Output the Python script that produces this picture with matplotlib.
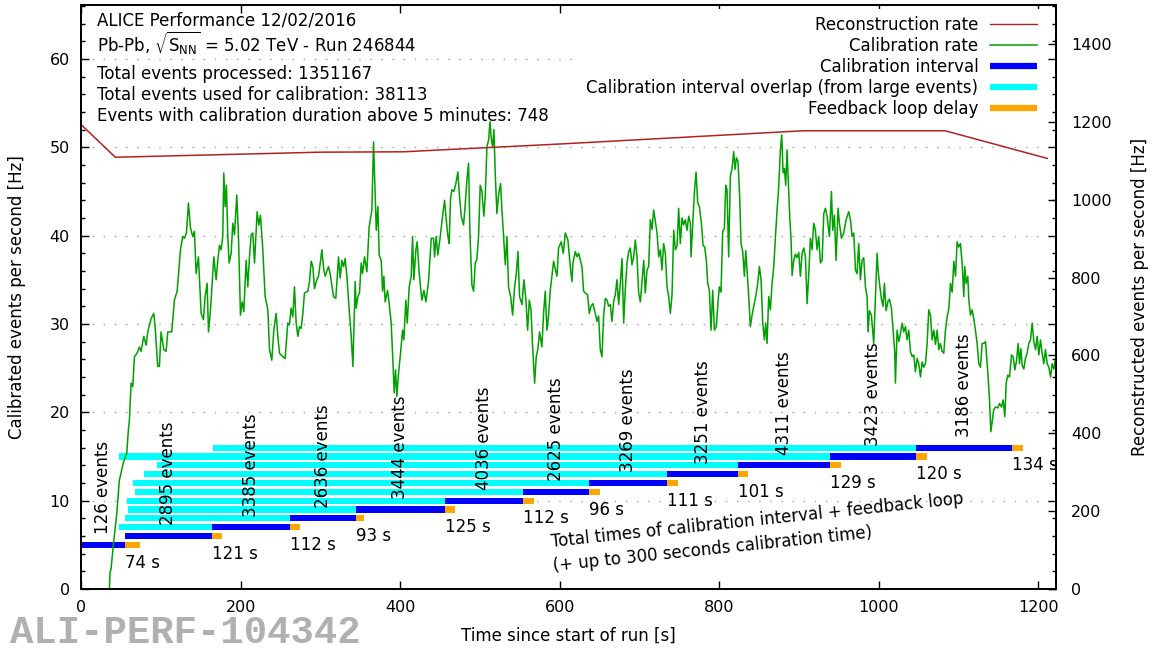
import matplotlib
matplotlib.use('Agg')
import matplotlib.pyplot as plt
from matplotlib.lines import Line2D
from matplotlib.ticker import MultipleLocator

plt.rcParams['mathtext.fontset'] = 'dejavusans'

# reconstruction rate (right axis, Hz)
recon_time = [0, 43, 300, 404, 600, 905, 1083, 1211]
recon_rate = [1193, 1109, 1122, 1123, 1143, 1177, 1177, 1106]

# calibration rate (left axis, Hz)
calib_time = [
    35.5, 36.4, 37.5, 40.5, 44.8, 48.0, 53.0, 57.3, 59.3, 60.6,
    62.7, 64.8, 66.9, 70.2, 73.1, 75.2, 78.6, 81.5, 83.6, 87.8,
    91.1, 92.8, 96.1, 98.2, 100.3, 103.7, 106.6, 108.7, 113.7, 117.0,
    120.4, 124.6, 127.5, 129.6, 132.1, 134.6, 137.1, 140.0, 142.1, 144.2,
    147.1, 150.5, 153.4, 155.5, 158.0, 159.7, 162.2, 164.3, 166.4, 169.3,
    171.4, 173.5, 175.5, 177.6, 178.9, 180.6, 182.2, 183.9, 185.6, 188.1,
    190.2, 192.3, 195.2, 197.3, 199.8, 201.9, 204.0, 206.9, 209.0, 211.1,
    213.2, 215.3, 217.4, 219.4, 220.7, 222.8, 224.9, 227.8, 230.7, 234.1,
    236.2, 239.1, 241.6, 244.5, 246.6, 248.7, 252.9, 255.8, 259.1, 261.2,
    263.3, 265.4, 267.5, 269.6, 271.7, 273.8, 275.9, 278.0, 280.0, 284.2,
    286.3, 288.4, 290.5, 292.6, 294.7, 297.6, 300.1, 301.8, 304.3,
    306.0, 310.1, 312.2, 316.4, 319.3, 322.7, 324.8, 326.9, 329.0, 331.0,
    333.1, 336.1, 338.6, 340.7, 343.6, 344.8, 347.0, 349.0, 351.1, 352.8,
    355.3, 358.2, 361.1, 364.5, 366.6, 368.7, 370.0, 372.0, 373.7, 376.2,
    377.9, 379.5, 381.2, 384.1, 386.2, 388.7, 390.8, 392.5, 394.2, 395.8,
    398.0, 400.0, 403.0, 404.6, 407.1, 408.8, 411.3, 413.8, 415.5, 417.1,
    419.7, 421.3, 423.8, 427.2, 429.7, 432.2, 435.5, 438.9, 441.8, 443.1,
    445.1, 447.2, 450.2, 453.1, 455.6, 457.7, 459.8, 461.4, 463.1, 464.8,
    467.3, 469.8, 472.3, 474.4, 476.5, 479.4, 481.5, 483.6, 485.7, 487.4,
    489.9, 492.0, 494.1, 496.1, 498.2, 500.3, 502.4, 504.9, 506.6, 508.7,
    510.8, 512.5, 514.1, 515.8, 517.5, 519.1, 521.2, 523.3, 525.8, 527.5,
    529.6, 531.7, 533.8, 535.8, 538.4, 540.9, 543.4, 545.5, 547.6, 549.6,
    552.6, 555.1, 557.6, 559.7, 561.8, 563.9, 566.0, 568.5, 570.5, 572.6,
    574.7, 577.6, 579.7, 581.8, 583.9, 586.0, 588.1, 590.2, 592.3, 594.4,
    596.5, 598.5, 601.9, 604.4, 606.9, 610.2, 613.2, 615.3,
    616.5, 619.5, 621.6, 623.7, 627.8, 629.9, 632.0, 634.9, 637.0, 639.1,
    641.6, 644.5, 646.6, 648.7, 650.8, 652.9, 655.0, 657.1, 659.2, 661.3,
    663.4, 665.4, 667.5, 669.6, 671.7, 673.8, 675.9, 678.0, 680.1, 682.2,
    684.3, 686.4, 688.4, 690.5, 692.6, 694.7, 696.8, 698.9, 701.0, 703.1,
    705.2, 707.2, 709.3, 711.4, 713.5, 715.6, 717.7, 719.8, 721.9, 724.0,
    726.1, 728.1, 730.2, 732.3, 734.4, 736.5, 738.6, 740.7, 742.8, 744.9,
    747.0, 749.0, 751.1, 753.2, 755.3, 757.4, 759.5, 761.6, 763.7, 764.5,
    767.0, 768.7, 770.8, 772.9, 775.0, 777.5, 779.6, 781.7, 783.8, 785.4,
    787.5, 789.6, 791.7, 793.8, 796.3, 798.4, 800.0, 802.1, 804.2, 806.3,
    808.0, 809.6, 811.7, 813.8, 815.9, 818.0, 819.7, 821.4, 823.4, 825.5,
    827.2, 829.3, 831.4, 833.1, 834.7, 836.4, 838.9, 841.0, 843.1, 846.0,
    848.1, 850.2, 852.3, 854.4, 856.5, 858.1, 859.8, 861.9, 864.0, 866.1,
    868.2, 870.3, 872.4, 874.4, 876.5, 878.2, 879.9, 881.6, 883.2, 884.9,
    886.6, 888.2, 889.9, 891.2, 893.2, 895.3, 897.4, 899.5, 901.6, 903.7,
    905.8, 907.9, 910.0, 912.1, 914.1, 916.2, 918.3,
    920.4, 922.5, 924.6, 926.7, 928.8, 930.9, 933.0, 935.0, 938.0, 940.5,
    942.1, 944.2, 946.3, 948.8, 950.5, 953.0, 955.9, 958.9, 962.2, 964.3,
    966.4, 968.5, 970.6, 972.6, 974.7, 976.8, 978.9, 981.0, 983.1, 985.2,
    986.4, 988.1, 990.6, 993.5, 995.6, 997.7, 999.0, 1000.7, 1003.2, 1005.2,
    1006.9, 1009.0, 1011.5, 1013.2, 1015.7, 1017.8, 1019.9, 1020.7, 1022.8, 1024.9,
    1027.0, 1029.1, 1031.2, 1033.3, 1035.3, 1037.4, 1039.5, 1041.6, 1043.7, 1045.8,
    1047.9, 1050.0, 1052.1, 1054.2, 1056.2, 1058.3, 1060.4, 1062.5, 1064.6, 1066.7,
    1068.8, 1070.9, 1073.0, 1075.0, 1077.1, 1079.2, 1081.3, 1083.4, 1085.5, 1087.6,
    1089.7, 1091.8, 1093.9, 1096.0, 1098.0, 1100.1, 1102.2, 1104.3, 1106.4, 1107.6,
    1109.3, 1111.4, 1112.7, 1114.8, 1116.8, 1118.9, 1121.0, 1123.1, 1125.2, 1127.3,
    1129.4, 1131.5, 1133.6, 1135.7, 1136.9, 1138.6, 1140.3, 1144.0, 1146.1, 1149.0,
    1151.1, 1153.6, 1155.7, 1157.8, 1159.5, 1161.6, 1163.7, 1166.2, 1168.3, 1170.4,
    1172.4, 1174.5, 1176.2, 1177.9, 1179.6, 1181.6, 1183.7, 1185.8, 1187.9, 1190.0,
    1192.1, 1194.2, 1196.3, 1198.4, 1200.4, 1202.5, 1204.6, 1206.7, 1208.8, 1210.9,
    1213.0, 1215.1, 1217.2, 1219.3, 1221.4, 1223.4,
]
calib_rate = [
    0.0, 2.0, 2.2, 5.0, 8.6, 12.3, 14.3, 15.4, 18.0, 19.1,
    23.3, 22.9, 26.3, 26.7, 27.4, 26.9, 28.6, 27.6, 29.1, 30.6,
    31.2, 29.7, 25.2, 25.2, 29.1, 27.1, 26.9, 29.1, 29.1, 32.7,
    33.7, 38.4, 39.9, 39.7, 40.3, 43.7, 40.9, 39.9, 40.5, 35.7,
    37.6, 31.2, 30.5, 33.1, 34.6, 29.1, 31.6, 34.6, 37.6, 35.0,
    37.2, 38.9, 38.4, 39.9, 47.1, 43.3, 45.7, 39.9, 36.9, 38.0,
    41.4, 40.1, 44.6, 39.9, 31.0, 32.5, 31.4, 37.2, 34.2, 37.6,
    40.1, 40.3, 36.9, 40.3, 42.7, 41.2, 42.3, 38.4, 33.1, 31.6,
    27.1, 25.9, 29.3, 31.2, 28.6, 26.7, 26.3, 26.1, 30.1, 29.9,
    31.8, 30.8, 34.2, 30.1, 28.6, 29.7, 29.5, 31.2, 33.5, 33.7,
    34.8, 37.1, 36.5, 34.0, 34.8, 35.4, 37.1, 38.4, 36.1,
    35.4, 36.5, 35.7, 33.1, 32.9, 37.6, 35.2, 37.2, 36.5, 37.4,
    35.5, 31.6, 28.6, 25.2, 34.8, 31.8, 33.1, 33.5, 36.9, 35.7,
    37.6, 35.9, 41.0, 42.9, 50.6, 44.4, 40.6, 43.3, 37.8, 37.2,
    33.7, 35.4, 32.5, 33.8, 32.3, 30.1, 25.9, 22.2, 24.8, 21.8,
    24.5, 26.3, 29.3, 28.2, 32.7, 30.1, 34.2, 35.4, 39.9, 35.0,
    38.4, 39.3, 35.7, 32.7, 33.8, 32.5, 34.8, 39.7, 39.7, 37.6,
    39.9, 37.8, 39.9, 42.2, 44.0, 41.8, 39.9, 39.1, 44.2, 45.2,
    45.0, 45.9, 47.2, 44.4, 42.2, 41.2, 43.5, 46.3, 48.2, 40.3,
    34.4, 33.7, 36.9, 37.3, 39.9, 45.7, 45.0, 42.2, 44.4, 50.1,
    50.8, 52.9, 51.0, 50.1, 52.0, 47.1, 42.5, 44.6, 45.9, 42.9,
    39.9, 36.7, 39.9, 34.2, 33.1, 31.0, 34.2, 35.7, 38.2, 33.1,
    32.2, 35.0, 32.7, 29.3, 32.7, 31.6, 27.4, 23.3, 26.3, 27.2,
    29.1, 27.4, 31.2, 33.7, 29.3, 31.0, 33.8, 35.4, 37.1, 36.2,
    35.4, 38.6, 39.3, 38.0, 40.3, 39.5, 36.5, 34.8,
    36.9, 38.2, 37.6, 38.0, 36.5, 33.7, 33.5, 33.3, 31.2, 32.0,
    32.3, 31.2, 30.3, 30.9, 27.1, 26.3, 31.0, 32.9, 32.7, 32.0,
    32.2, 30.3, 32.5, 33.3, 35.0, 32.2, 34.6, 37.4, 30.1, 34.0,
    36.9, 38.2, 38.6, 36.7, 37.6, 39.5, 37.6, 33.5, 32.5, 34.8,
    37.2, 33.5, 36.1, 36.5, 41.8, 40.7, 42.9, 41.6, 40.3, 37.6,
    38.4, 36.1, 39.1, 38.0, 34.2, 33.1, 31.2, 33.3, 40.6, 38.4,
    38.8, 43.1, 39.1, 42.0, 41.2, 41.8, 40.6, 42.2, 41.4, 37.6,
    41.8, 44.8, 47.2, 43.7, 43.3, 41.4, 38.9, 38.7, 37.1, 34.6,
    33.8, 29.3, 33.8, 29.3, 29.7, 32.5, 34.2, 33.6, 40.5, 40.8,
    45.7, 45.2, 37.6, 46.7, 47.6, 49.5, 47.5, 48.8, 48.4, 44.4,
    39.1, 38.2, 35.4, 38.3, 36.1, 33.7, 29.7, 31.0, 32.0, 33.3,
    34.6, 36.5, 35.0, 30.1, 28.2, 30.1, 27.8, 33.1, 31.6, 34.6,
    36.5, 39.9, 42.9, 45.5, 49.7, 51.4, 47.1, 47.6, 45.7, 49.7,
    45.9, 42.2, 39.5, 35.5, 37.2, 37.9, 37.5, 38.1, 35.4, 38.0,
    38.6, 37.6, 32.3, 35.7, 39.7, 38.4, 41.4,
    40.6, 38.4, 39.9, 36.9, 37.2, 42.5, 43.1, 42.2, 39.9, 45.0,
    40.6, 42.3, 37.2, 43.1, 41.4, 39.7, 40.3, 41.8, 42.7, 41.8,
    39.9, 40.3, 36.1, 35.7, 39.1, 35.0, 37.2, 37.5, 34.2, 33.1,
    29.1, 31.5, 31.0, 27.8, 32.9, 38.0, 36.1, 34.6, 32.8, 32.0,
    34.6, 31.5, 32.6, 32.8, 31.8, 29.3, 26.7, 23.3, 29.3, 28.0,
    28.9, 30.1, 29.1, 29.7, 28.2, 29.3, 26.9, 26.3, 26.5, 24.6,
    26.1, 25.5, 24.0, 25.7, 25.1, 25.5, 27.7, 31.6, 31.0, 28.2,
    29.3, 27.7, 29.3, 27.1, 27.8, 26.9, 26.7, 29.3, 30.8, 31.7,
    34.6, 33.6, 37.1, 35.4, 39.3, 38.7, 39.1, 36.9, 33.1, 36.5,
    34.6, 35.4, 32.7, 31.0, 31.6, 30.6, 29.3, 27.8, 25.5, 25.1,
    27.8, 27.8, 28.0, 25.5, 24.0, 21.4, 17.8, 20.3, 20.6, 20.5,
    21.0, 20.6, 21.4, 19.5, 23.3, 24.2, 24.0, 26.5, 26.3, 24.8,
    25.8, 27.8, 25.5, 27.2, 25.3, 24.9, 26.1, 26.7, 27.8, 28.2,
    30.1, 28.0, 27.1, 28.6, 26.5, 28.2, 26.7, 25.5, 27.1, 25.5,
    25.1, 24.0, 25.5, 24.9, 26.1, 26.9,
]

# calibration intervals (one per row)
row_level = [5, 6, 7, 8, 9, 10, 11, 12, 13, 14, 15, 16]
interval_edges = [0, 55, 164, 262, 344, 456, 554, 637, 735, 823, 939, 1047, 1167]
overlap_start = [0, 55, 48, 55, 59, 58, 68, 65, 79, 95, 47, 166]
feedback_delay = [19, 13, 13, 11, 13, 14, 14, 13, 13, 13, 13, 13]
events_count = [126, 2895, 3385, 2636, 3444, 4036, 2625, 3269, 3251, 4311, 3423, 3186]
total_time = [74, 121, 112, 93, 125, 112, 96, 111, 101, 129, 120, 134]

info_lines = [
    'ALICE Performance 12/02/2016',
    r'Pb-Pb, $\sqrt{\mathrm{S}_{\mathrm{NN}}}$ = 5.02 TeV - Run 246844',
    'Total events processed: 1351167',
    'Total events used for calibration: 38113',
    'Events with calibration duration above 5 minutes: 748',
]
info_y = [0.974, 0.935, 0.882, 0.846, 0.810]

RED = '#b22222'
GREEN = '#00a000'
BLUE = '#0000ff'
CYAN = '#00ffff'
ORANGE = '#ffa500'
FS = 12

fig = plt.figure(figsize=(11.53, 6.51), dpi=100)
ax = fig.add_axes([0.0703, 0.0952, 0.8456, 0.8971])
ax2 = ax.twinx()

starts = interval_edges[:-1]
ends = interval_edges[1:]
ax.barh(row_level, [s - o for s, o in zip(starts, overlap_start)], left=overlap_start,
        height=0.7, color=CYAN, linewidth=0)
ax.barh(row_level, [e - s for s, e in zip(starts, ends)], left=starts,
        height=0.7, color=BLUE, linewidth=0)
ax.barh(row_level, feedback_delay, left=ends, height=0.7, color=ORANGE, linewidth=0)

for i, row in enumerate(row_level):
    mid = (starts[i] + ends[i]) / 2
    ax.text(mid, row + 1.2, f'{events_count[i]} events', rotation=90,
            ha='center', va='bottom', fontsize=FS)
    ax.text(ends[i], row - 2, f'{total_time[i]} s', ha='left', va='center', fontsize=FS)

# anchored on the baseline of the last line
ax.text(592, 2.72, 'Total times of calibration interval + feedback loop\n'
        '(+ up to 300 seconds calibration time)',
        rotation=6.0, rotation_mode='anchor', ha='left', va='baseline',
        linespacing=1.4, fontsize=FS)

ax.plot(calib_time, calib_rate, color=GREEN, lw=1.1, zorder=3)
ax2.plot(recon_time, recon_rate, color=RED, lw=1.1)

ax.set_xlim(0, 1222)
ax.set_ylim(0, 66.1)
ax2.set_ylim(0, 1500)

ax.xaxis.set_major_locator(MultipleLocator(200))
ax.yaxis.set_major_locator(MultipleLocator(10))
ax.yaxis.set_minor_locator(MultipleLocator(2))
ax2.set_yticks(range(0, 1500, 200))

ax.tick_params(axis='x', which='both', direction='in', top=True, bottom=True,
               length=5.5, width=1, labelsize=11.5, pad=8)
ax.tick_params(axis='y', which='major', direction='in', left=True, right=True,
               length=5.5, width=1, labelsize=11.5, pad=8)
ax.tick_params(axis='y', which='minor', direction='in', left=True, right=True,
               length=3, width=1)
ax2.tick_params(axis='y', which='major', direction='in', right=True, left=False,
                length=5.5, width=1, labelsize=11.5, pad=11)

for a in (ax, ax2):
    for sp in a.spines.values():
        sp.set_linewidth(1.3)

ax.set_axisbelow(True)
ax.yaxis.grid(True, which='major', color='#a0a0a0', linestyle=(0, (1, 7)), lw=1)

ax.set_xlabel('Time since start of run [s]', fontsize=FS)
ax.set_ylabel('Calibrated events per second [Hz]', fontsize=FS)
ax2.set_ylabel('Reconstructed events per second [Hz]', fontsize=FS)
ax.xaxis.set_label_coords(0.5, -0.065)
ax.yaxis.set_label_coords(-0.0564, 0.5)
ax2.yaxis.set_label_coords(1.077, 0.5)

for txt, y in zip(info_lines, info_y):
    ax2.text(0.0164, y, txt, transform=ax2.transAxes, ha='left', va='center', fontsize=FS)

handles = [
    Line2D([], [], color=RED, lw=1),
    Line2D([], [], color=GREEN, lw=1.1),
    Line2D([], [], color=BLUE, lw=4.5, solid_capstyle='butt'),
    Line2D([], [], color=CYAN, lw=4.5, solid_capstyle='butt'),
    Line2D([], [], color=ORANGE, lw=4.5, solid_capstyle='butt'),
]
labels = ['Reconstruction rate', 'Calibration rate', 'Calibration interval',
          'Calibration interval overlap (from large events)', 'Feedback loop delay']
ax2.legend(handles, labels, loc='upper right', bbox_to_anchor=(0.987, 0.993),
           markerfirst=False, frameon=True, fancybox=False, edgecolor='none',
           facecolor='white', framealpha=1, borderpad=0.4, borderaxespad=0,
           handlelength=2.8, handletextpad=0.7, labelspacing=0.18, fontsize=FS)

fig.text(10 / 1153, 0.0, 'ALI-PERF-104342', family='Liberation Mono',
         weight='bold', fontsize=28, color='#b0b0b0', ha='left', va='bottom')

fig.savefig('out.png', dpi=100)
